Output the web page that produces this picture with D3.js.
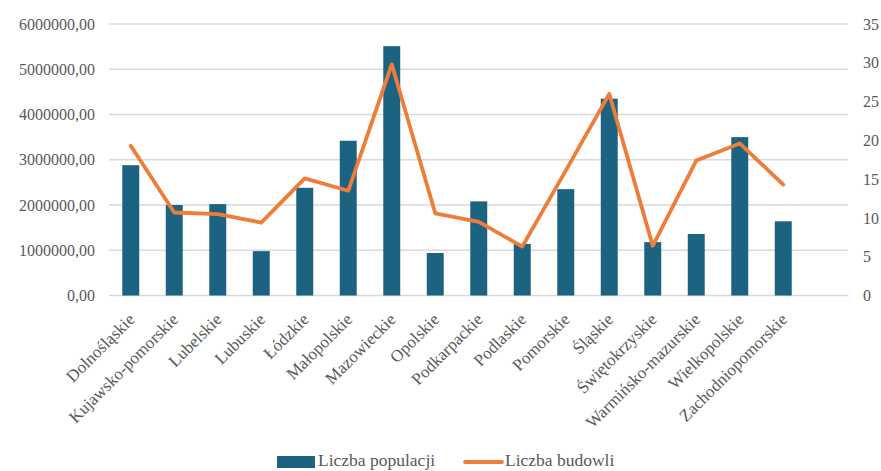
<!DOCTYPE html>
<html>
<head>
<meta charset="utf-8">
<script src="https://cdn.jsdelivr.net/npm/d3@7"></script>
<style>
  html, body { margin: 0; padding: 0; background: #fff; }
  svg text { font-family: "Liberation Serif", "Times New Roman", serif; fill: #595959; }
</style>
</head>
<body>
<svg id="chart" width="881" height="471"></svg>
<script>
// Regions (voivodeships)
const regions = ["Dolnośląskie", "Kujawsko-pomorskie", "Lubelskie", "Lubuskie", "Łódzkie",
  "Małopolskie", "Mazowieckie", "Opolskie", "Podkarpackie", "Podlaskie", "Pomorskie",
  "Śląskie", "Świętokrzyskie", "Warmińsko-mazurskie", "Wielkopolskie", "Zachodniopomorskie"];

// Population per region (left axis)
const population = [2880000, 2000000, 2020000, 980000, 2380000, 3420000, 5510000, 940000,
  2080000, 1140000, 2350000, 4350000, 1180000, 1360000, 3500000, 1640000];

// Number of buildings per region (right axis)
const buildings = [19.3, 10.7, 10.5, 9.4, 15.1, 13.5, 29.8, 10.6, 9.5, 6.3, 16.1, 26.0, 6.4, 17.4, 19.6, 14.3];

const leftTicks = [0, 1000000, 2000000, 3000000, 4000000, 5000000, 6000000];
const rightTicks = [0, 5, 10, 15, 20, 25, 30, 35];
const seriesNames = ["Liczba populacji", "Liczba budowli"];

const svg = d3.select("#chart");
const m = { left: 109, right: 848, top: 24, bottom: 295.5 };

// categories occupy the left part of the plot; gridlines run to the right axis
const x = d3.scaleBand().domain(regions).range([m.left, 805]).paddingInner(0.61).paddingOuter(0.305);
const yL = d3.scaleLinear().domain([0, 6000000]).range([m.bottom, m.top]);
const yR = d3.scaleLinear().domain([0, 35]).range([m.bottom, m.top]);

const fmt = v => d3.format(".2f")(v).replace(".", ",");
const serif = "'Liberation Serif', 'Times New Roman', serif";

// gridlines
svg.append("g").selectAll("line").data(leftTicks).join("line")
  .attr("x1", m.left).attr("x2", m.right)
  .attr("y1", d => yL(d)).attr("y2", d => yL(d))
  .attr("stroke", "#d9d9d9").attr("stroke-width", 1.3);

// left axis
const axL = d3.axisLeft(yL).tickValues(leftTicks).tickFormat(fmt).tickSize(0).tickPadding(14);
svg.append("g").attr("transform", `translate(${m.left},0)`).call(axL)
  .call(g => g.select(".domain").remove())
  .call(g => g.selectAll("text").attr("font-size", 16).attr("fill", "#595959")
    .style("font-family", serif));

// right axis
const axR = d3.axisRight(yR).tickValues(rightTicks).tickSize(0).tickPadding(15);
svg.append("g").attr("transform", `translate(${m.right},0)`).call(axR)
  .call(g => g.select(".domain").remove())
  .call(g => g.selectAll("text").attr("font-size", 16).attr("fill", "#595959")
    .style("font-family", serif));

// bars
svg.append("g").selectAll("rect").data(regions).join("rect")
  .attr("x", d => x(d))
  .attr("width", x.bandwidth())
  .attr("y", (d, i) => yL(population[i]))
  .attr("height", (d, i) => yL(0) - yL(population[i]))
  .attr("fill", "#1c6382");

// line
const line = d3.line().x((d, i) => x(regions[i]) + x.bandwidth() / 2).y(d => yR(d));
svg.append("path").datum(buildings)
  .attr("d", line).attr("fill", "none")
  .attr("stroke", "#ee7d3a").attr("stroke-width", 3.8)
  .attr("stroke-linejoin", "round").attr("stroke-linecap", "round");

// category labels
const xAxis = d3.axisBottom(x).tickSize(0).tickPadding(0);
svg.append("g").attr("transform", `translate(0,${m.bottom})`).call(xAxis)
  .call(g => g.select(".domain").remove())
  .call(g => g.selectAll("text")
    .attr("font-size", 17).attr("fill", "#595959")
    .style("font-family", serif)
    .attr("text-anchor", "end")
    .attr("dy", 0)
    .attr("transform", "translate(5,25) rotate(-45)"));

// legend
const lg = svg.append("g").attr("transform", "translate(0,462)");
lg.append("rect").attr("x", 277).attr("y", -6).attr("width", 38).attr("height", 12).attr("fill", "#1c6382");
lg.append("text").attr("x", 318).attr("y", 3.5).attr("font-size", 17.5).text(seriesNames[0]);
lg.append("line").attr("x1", 465).attr("x2", 502).attr("y1", 0).attr("y2", 0)
  .attr("stroke", "#ee7d3a").attr("stroke-width", 3.8).attr("stroke-linecap", "round");
lg.append("text").attr("x", 505).attr("y", 3.5).attr("font-size", 17.5).text(seriesNames[1]);
</script>
</body>
</html>
